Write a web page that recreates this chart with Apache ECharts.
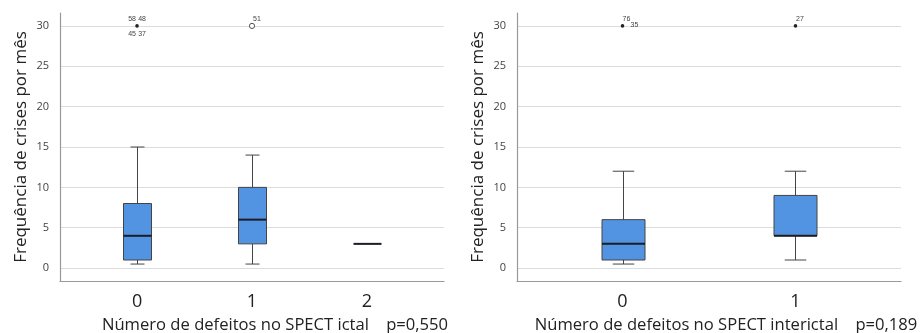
<!DOCTYPE html>
<html>
<head>
<meta charset="utf-8">
<script src="https://cdn.jsdelivr.net/npm/echarts@6/dist/echarts.min.js"></script>
<style>html,body{margin:0;padding:0;background:#fff;}#c{width:924px;height:333px;}</style>
</head>
<body>
<div id="c"></div>
<script>
// ---- data ----
const yTicks = [0, 5, 10, 15, 20, 25, 30];
const yAxisTitle = 'Frequência de crises por mês';

const ictalCategories = [0, 1, 2];
const ictalMin = [0.5, 0.5, 3];
const ictalQ1 = [1, 3, 3];
const ictalMedian = [4, 6, 3];
const ictalQ3 = [8, 10, 3];
const ictalMax = [15, 14, 3];
const ictalOutlierX = [0, 1];
const ictalOutlierY = [30, 30];
const ictalOutlierType = ['extreme', 'outlier'];
const ictalOutlierIds = [['58', '48', '45', '37'], ['51']];
const ictalTitle = 'Número de defeitos no SPECT ictal    p=0,550';

const interCategories = [0, 1];
const interMin = [0.5, 1];
const interQ1 = [1, 4];
const interMedian = [3, 4];
const interQ3 = [6, 9];
const interMax = [12, 12];
const interOutlierX = [0, 1];
const interOutlierY = [30, 30];
const interOutlierType = ['extreme', 'extreme'];
const interOutlierIds = [['76', '35'], ['27']];
const interTitle = 'Número de defeitos no SPECT interictal    p=0,189';

// ---- helpers ----
function boxData(cats, mn, q1, md, q3, mx) {
  return cats.map((c, i) => [c, mn[i], q1[i], md[i], q3[i], mx[i]]);
}
function outlierData(xs, ys) { return xs.map((x, i) => [x, ys[i], i]); }

const FILL = '#5294e2', EDGE = '#444', MED = '#1c1c24';

function boxRenderer(boxW) {
  return function (params, api) {
    const x = api.value(0);
    const pMin = api.coord([x, api.value(1)]);
    const pQ1 = api.coord([x, api.value(2)]);
    const pMed = api.coord([x, api.value(3)]);
    const pQ3 = api.coord([x, api.value(4)]);
    const pMax = api.coord([x, api.value(5)]);
    const cx = Math.round(pMed[0]) + 0.5;
    const hw = boxW / 2, cw = boxW / 4;
    const ch = [];
    const ln = (x1, y1, x2, y2, w, c) => ({
      type: 'line', shape: { x1, y1, x2, y2 },
      style: { stroke: c || EDGE, lineWidth: w || 1 }
    });
    if (pMax[1] < pQ3[1] - 0.5) {
      ch.push(ln(cx, pMax[1], cx, pQ3[1]));
      ch.push(ln(cx - cw, pMax[1], cx + cw, pMax[1]));
    }
    if (pMin[1] > pQ1[1] + 0.5) {
      ch.push(ln(cx, pQ1[1], cx, pMin[1]));
      ch.push(ln(cx - cw, pMin[1], cx + cw, pMin[1]));
    }
    if (pQ1[1] - pQ3[1] > 0.5) {
      ch.push({
        type: 'rect',
        shape: { x: cx - hw, y: pQ3[1], width: boxW, height: pQ1[1] - pQ3[1] },
        style: { fill: FILL, stroke: EDGE, lineWidth: 1 }
      });
    }
    ch.push(ln(cx - hw, pMed[1], cx + hw, pMed[1], 2, MED));
    return { type: 'group', children: ch };
  };
}

function outlierRenderer(types, ids, offsets) {
  return function (params, api) {
    const i = api.value(2);
    const p = api.coord([api.value(0), api.value(1)]);
    const ch = [];
    if (types[i] === 'extreme') {
      ch.push({ type: 'circle', shape: { cx: p[0], cy: p[1], r: 1.8 }, style: { fill: '#222' } });
    } else {
      ch.push({ type: 'circle', shape: { cx: p[0], cy: p[1], r: 2.6 }, style: { fill: '#fff', stroke: '#555', lineWidth: 1 } });
    }
    ids[i].forEach((t, k) => {
      const o = offsets[i][k];
      ch.push({
        type: 'text', x: p[0] + o[0], y: p[1] + o[1],
        style: { text: t, fill: '#444', font: '7px "Liberation Sans"', align: 'center', verticalAlign: 'middle' }
      });
    });
    return { type: 'group', children: ch };
  };
}

function xAxisCfg(idx, mn, mx, cats) {
  return {
    type: 'value', gridIndex: idx, min: mn, max: mx,
    axisLine: { show: true, onZero: false, lineStyle: { color: '#999', width: 1.2 } },
    axisTick: { show: false, customValues: cats },
    splitLine: { show: false },
    axisLabel: {
      customValues: cats, margin: 12, color: '#222', fontSize: 18,
      fontFamily: 'Open Sans', formatter: v => String(v)
    }
  };
}
function yAxisCfg(idx) {
  return {
    type: 'value', gridIndex: idx, min: -1.6, max: 31.6,
    name: yAxisTitle, nameLocation: 'middle', nameGap: 30,
    nameTextStyle: { fontSize: 17, color: '#222', fontFamily: 'Open Sans' },
    axisLine: { show: true, onZero: false, lineStyle: { color: '#999', width: 1.2 } },
    axisTick: { show: false, customValues: yTicks },
    splitLine: { show: true, lineStyle: { color: '#dcdcdc', width: 1.2 } },
    axisLabel: { customValues: yTicks, margin: 11, color: '#444', fontSize: 11, fontFamily: 'Open Sans' }
  };
}

const chart = echarts.init(document.getElementById('c'), null, { renderer: 'canvas' });
chart.setOption({
  animation: false,
  backgroundColor: '#fff',
  grid: [
    { left: 60, right: 480, top: 13, bottom: 52 },
    { left: 517, right: 23, top: 13, bottom: 52 }
  ],
  xAxis: [xAxisCfg(0, -0.67, 2.67, ictalCategories), xAxisCfg(1, -0.61, 1.61, interCategories)],
  yAxis: [yAxisCfg(0), yAxisCfg(1)],
  title: [
    { text: ictalTitle, left: 270, top: 312, textAlign: 'center',
      textStyle: { fontSize: 16.6, fontWeight: 'normal', color: '#222', fontFamily: 'Open Sans' } },
    { text: interTitle, left: 721, top: 312, textAlign: 'center',
      textStyle: { fontSize: 16.6, fontWeight: 'normal', color: '#222', fontFamily: 'Open Sans' } }
  ],
  series: [
    { type: 'custom', xAxisIndex: 0, yAxisIndex: 0, renderItem: boxRenderer(28),
      data: boxData(ictalCategories, ictalMin, ictalQ1, ictalMedian, ictalQ3, ictalMax), clip: false },
    { type: 'custom', xAxisIndex: 0, yAxisIndex: 0,
      renderItem: outlierRenderer(ictalOutlierType, ictalOutlierIds,
        [[[-5, -6.5], [5, -6.5], [-5, 8.5], [5, 8.5]], [[5, -6.5]]]),
      data: outlierData(ictalOutlierX, ictalOutlierY), clip: false },
    { type: 'custom', xAxisIndex: 1, yAxisIndex: 1, renderItem: boxRenderer(43),
      data: boxData(interCategories, interMin, interQ1, interMedian, interQ3, interMax), clip: false },
    { type: 'custom', xAxisIndex: 1, yAxisIndex: 1,
      renderItem: outlierRenderer(interOutlierType, interOutlierIds,
        [[[4, -6.5], [12, -1]], [[4.5, -6.5]]]),
      data: outlierData(interOutlierX, interOutlierY), clip: false }
  ]
});
</script>
</body>
</html>
